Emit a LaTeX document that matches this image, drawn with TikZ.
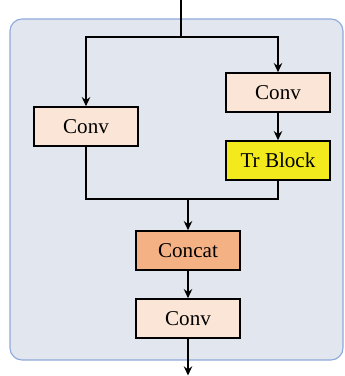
\documentclass[tikz,border=0pt]{standalone}
\usepackage{fontspec}
\setmainfont{Liberation Serif}
\usetikzlibrary{arrows.meta}

\definecolor{panelfill}{HTML}{E1E6EF}
\definecolor{paneledge}{HTML}{8FAADC}
\definecolor{convfill}{HTML}{FBE5D6}
\definecolor{trfill}{HTML}{F2EA1C}
\definecolor{catfill}{HTML}{F4B183}

\begin{document}
\begin{tikzpicture}[x=0.025cm,y=-0.025cm,
	blk/.style={draw,line width=1.1pt,minimum width=2.6cm,minimum height=0.975cm,inner sep=0pt,font=\fontsize{15}{16}\selectfont},
	flow/.style={line width=1.1pt,-{Stealth[length=6.5pt,width=6pt]}},
	wire/.style={line width=1.1pt}]
	\useasboundingbox (0,0) rectangle (344,376);
	% panel behind the block
	\draw[paneledge,fill=panelfill,line width=0.8pt,rounded corners=0.3cm] (10,19) rectangle (343,360);
	% boxes
	\node[blk,fill=convfill] (convL) at (86,126.5) {Conv};
	\node[blk,fill=convfill] (convR) at (278,92.5) {Conv};
	\node[blk,fill=trfill] (tr) at (278,160.5) {Tr Block};
	\node[blk,fill=catfill] (cat) at (188,250.5) {Concat};
	\node[blk,fill=convfill] (convO) at (188,318.5) {Conv};
	% wiring points
	\coordinate (in) at (181,0);
	\coordinate (split) at (181,37);
	\coordinate (join) at (188,199);
	\coordinate (out) at (188,375.5);
	% connectors
	\draw[wire] (in) -- (split);
	\draw[flow] (split) -| (convL);
	\draw[flow] (split) -| (convR);
	\draw[flow] (convR) -- (tr);
	\draw[wire] (convL) |- (join);
	\draw[wire] (tr) |- (join);
	\draw[flow] (join) -- (cat);
	\draw[flow] (cat) -- (convO);
	\draw[flow] (convO) -- (out);
\end{tikzpicture}
\end{document}
